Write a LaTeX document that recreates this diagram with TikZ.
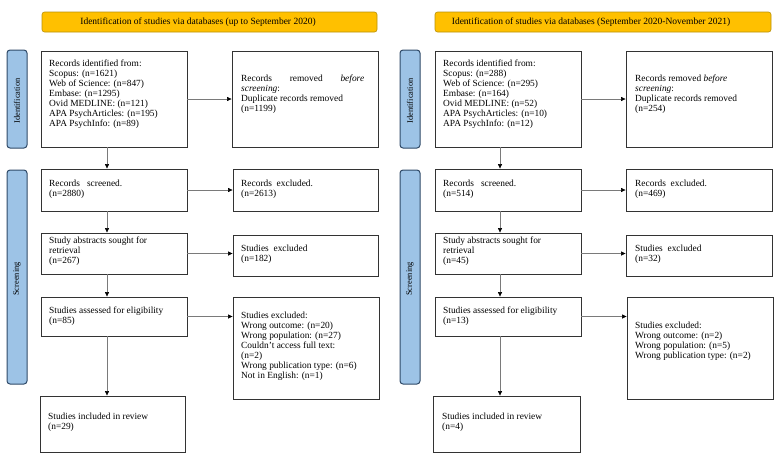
\documentclass[tikz,border=0pt]{standalone}
\usepackage{fontspec}
\setmainfont{Liberation Serif}
\usetikzlibrary{arrows.meta}
\definecolor{banfill}{HTML}{FFC000}
\definecolor{bandraw}{HTML}{B8900A}
\definecolor{sidefill}{HTML}{9DC3E6}
\definecolor{sidedraw}{HTML}{2F4A68}
\definecolor{boxdraw}{HTML}{333333}
\definecolor{arrline}{HTML}{7A7A7A}
\tikzset{
  bx/.style={draw=boxdraw, line width=0.9pt, inner sep=0pt, rectangle},
  ban/.style={draw=bandraw, line width=0.6pt, fill=banfill, rounded corners=2.5pt, inner sep=0pt,
     font=\fontsize{9.5}{10}\selectfont},
  side/.style={draw=sidedraw, line width=1pt, fill=sidefill, rounded corners=3pt, inner sep=0pt},
  sidetxt/.style={rotate=90, font=\fontsize{8.4}{10}\selectfont, inner sep=0pt},
  txt/.style={anchor=north west, align=left, inner sep=0pt, font=\fontsize{9.4}{10}\selectfont},
  arr/.style={draw=arrline, line width=0.6pt, -{Triangle[length=4.5pt,width=4pt,fill=black,color=black]}},
}
\begin{document}
\begin{tikzpicture}[x=1pt,y=-1pt]
\useasboundingbox (0,0) rectangle (781,456);

% ===== Left panel =====
\node[ban, minimum width=335, minimum height=20] (Lban) at (209.5,22) {\kern-23pt Identification of studies via databases (up to September 2020)};
\node[side, minimum width=20, minimum height=98] (LId) at (17,99) {};
\node[sidetxt] (LIdt) at (17,101) {Identification};
\node[side, minimum width=20, minimum height=214] (LScr) at (17,277) {};
\node[sidetxt] (LScrt) at (17,279) {Screening};

\node[bx, minimum width=146, minimum height=96] (LA) at (114,99) {};
\node[bx, minimum width=146, minimum height=96] (LB) at (305,99) {};
\node[bx, minimum width=146, minimum height=42] (LC) at (114,190) {};
\node[bx, minimum width=145, minimum height=42] (LD) at (305.5,190) {};
\node[bx, minimum width=146, minimum height=41] (LE) at (114,253.5) {};
\node[bx, minimum width=145, minimum height=41] (LF) at (305.5,255.5) {};
\node[bx, minimum width=146, minimum height=39] (LG) at (114,316.5) {};
\node[bx, minimum width=146, minimum height=102] (LH) at (306,348) {};
\node[bx, minimum width=145, minimum height=56] (LI) at (112.5,424) {};

\node[txt] (LAt) at (49,59.5) {Records identified from:\\Scopus: (n=1621)\\Web of Science: (n=847)\\Embase: (n=1295)\\Ovid MEDLINE: (n=121)\\APA PsychArticles: (n=195)\\APA PsychInfo: (n=89)};
\node[txt] (LBt) at (241,74.5) {\makebox[123pt][s]{Records\hfill removed\hfill \emph{before}}\\\emph{screening}:\\Duplicate records removed\\(n=1199)};
\node[txt] (LCt) at (49,179.5) {Records\ \ \ screened.\\(n=2880)};
\node[txt] (LDt) at (241,179.5) {Records\ \ excluded.\\(n=2613)};
\node[txt] (LEt) at (49,236.5) {Study abstracts sought for\\retrieval\\(n=267)};
\node[txt] (LFt) at (241,244.5) {Studies\ \ excluded\\(n=182)};
\node[txt] (LGt) at (49,306.5) {Studies\ assessed\ for\ eligibility\\(n=85)};
\node[txt] (LHt) at (241,311.5) {Studies excluded:\\Wrong outcome: (n=20)\\Wrong population: (n=27)\\Couldn’t access full text:\\(n=2)\\Wrong publication type: (n=6)\\Not in English: (n=1)};
\node[txt] (LIt) at (48,412.5) {Studies included in review\\(n=29)};

\draw[arr] (LA.east) -- (LB.west);
\draw[arr] (LC.east) -- (LD.west);
\draw[arr] (LE.east) -- (LE.east -| LF.west);
\draw[arr] (LG.east) -- (LG.east -| LH.west);
\draw[arr] ([xshift=-7pt]LA.south) -- ([xshift=-7pt]LA.south |- LC.north);
\draw[arr] ([xshift=-7pt]LC.south) -- ([xshift=-7pt]LC.south |- LE.north);
\draw[arr] ([xshift=-7pt]LE.south) -- ([xshift=-7pt]LE.south |- LG.north);
\draw[arr] ([xshift=-7pt]LG.south) -- ([xshift=-7pt]LG.south |- LI.north);

% ===== Right panel =====
\node[ban, minimum width=336, minimum height=20] (Rban) at (603,22) {\kern-24pt Identification of studies via databases (September 2020-November 2021)};
\node[side, minimum width=20, minimum height=98] (RId) at (410,99) {};
\node[sidetxt] (RIdt) at (410,101) {Identification};
\node[side, minimum width=20, minimum height=214] (RScr) at (410,277) {};
\node[sidetxt] (RScrt) at (410,279) {Screening};

\node[bx, minimum width=146, minimum height=96] (RA) at (508,99) {};
\node[bx, minimum width=146, minimum height=96] (RB) at (699,99) {};
\node[bx, minimum width=146, minimum height=42] (RC) at (508,190) {};
\node[bx, minimum width=146, minimum height=42] (RD) at (699,190) {};
\node[bx, minimum width=146, minimum height=41] (RE) at (508,253.5) {};
\node[bx, minimum width=146, minimum height=41] (RF) at (699,255.5) {};
\node[bx, minimum width=146, minimum height=39] (RG) at (508,316.5) {};
\node[bx, minimum width=146, minimum height=102] (RH) at (700,348) {};
\node[bx, minimum width=147, minimum height=56] (RI) at (506.5,424) {};

\node[txt] (RAt) at (443,59.5) {Records identified from:\\Scopus: (n=288)\\Web of Science: (n=295)\\Embase: (n=164)\\Ovid MEDLINE: (n=52)\\APA PsychArticles: (n=10)\\APA PsychInfo: (n=12)};
\node[txt] (RBt) at (635,74.5) {Records removed \emph{before}\\\emph{screening}:\\Duplicate records removed\\(n=254)};
\node[txt] (RCt) at (443,179.5) {Records\ \ \ screened.\\(n=514)};
\node[txt] (RDt) at (635,179.5) {Records\ \ excluded.\\(n=469)};
\node[txt] (REt) at (443,236.5) {Study abstracts sought for\\retrieval\\(n=45)};
\node[txt] (RFt) at (635,244.5) {Studies\ \ excluded\\(n=32)};
\node[txt] (RGt) at (443,306.5) {Studies\ assessed\ for\ eligibility\\(n=13)};
\node[txt] (RHt) at (635,321.5) {Studies excluded:\\Wrong outcome: (n=2)\\Wrong population: (n=5)\\Wrong publication type: (n=2)};
\node[txt] (RIt) at (442,412.5) {Studies included in review\\(n=4)};

\draw[arr] (RA.east) -- (RB.west);
\draw[arr] (RC.east) -- (RD.west);
\draw[arr] (RE.east) -- (RE.east -| RF.west);
\draw[arr] (RG.east) -- (RG.east -| RH.west);
\draw[arr] ([xshift=-8pt]RA.south) -- ([xshift=-8pt]RA.south |- RC.north);
\draw[arr] ([xshift=-8pt]RC.south) -- ([xshift=-8pt]RC.south |- RE.north);
\draw[arr] ([xshift=-8pt]RE.south) -- ([xshift=-8pt]RE.south |- RG.north);
\draw[arr] ([xshift=-8pt]RG.south) -- ([xshift=-8pt]RG.south |- RI.north);
\end{tikzpicture}
\end{document}
